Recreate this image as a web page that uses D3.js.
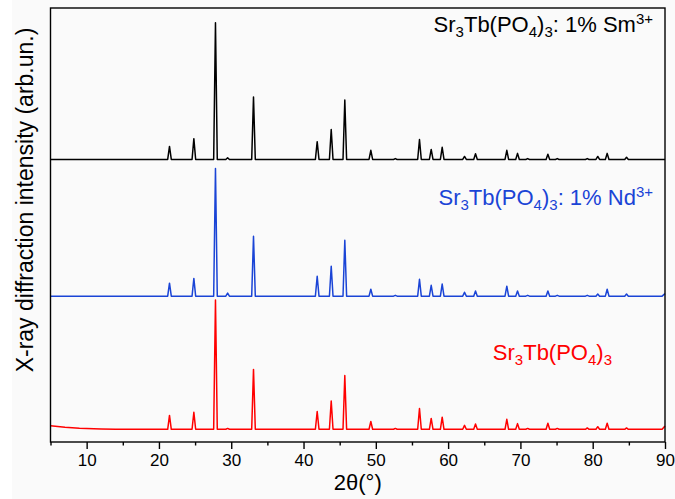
<!DOCTYPE html>
<html>
<head>
<meta charset="utf-8">
<script src="https://cdn.jsdelivr.net/npm/d3@7"></script>
<style>
  body { margin: 0; background: #fff; }
  svg { display: block; }
  text { font-family: "Liberation Sans", Arial, sans-serif; }
</style>
</head>
<body>
<svg id="chart" width="675" height="499"></svg>
<script>
// Reflection positions (2θ, degrees) shared by the three patterns
const peakPositions = [21.46, 24.83, 27.82, 29.5, 33.08, 41.89, 43.83, 45.71, 49.31, 52.7,
  56.04, 57.66, 59.18, 62.27, 63.79, 68.12, 69.60, 71.0, 73.8, 75.1, 79.25, 80.7, 82.0, 84.68];

// Peak heights above background (arb. units)
const peaksSm = [30, 48, 315, 4, 144, 41, 69, 137, 21, 2, 46, 23, 28, 7, 13, 21, 14, 2, 12, 2, 2, 7, 14, 5];
const peaksNd = [30, 41, 294, 7, 138, 46, 69, 129, 16, 2, 39, 25, 28, 9, 12, 23, 12, 2, 12, 2, 2, 5, 16, 5];
const peaksUndoped = [32, 39, 298, 2, 138, 41, 65, 124, 18, 2, 48, 25, 28, 9, 12, 23, 13, 2, 14, 2, 3, 6, 14, 3];

// Background level of each pattern, [2θ, intensity] (patterns are stacked with offsets)
const backgroundSm = [[5, 651], [90, 651]];
const backgroundNd = [[5, 336], [89.6, 336], [90, 342]];
const backgroundUndoped = [[5, 37.5], [7, 34], [9, 31.6], [12, 30], [14, 29.3], [89.6, 29.3], [90, 37]];

const xMajorTicks = [10, 20, 30, 40, 50, 60, 70, 80, 90];
const xMinorTicks = [5, 15, 25, 35, 45, 55, 65, 75, 85];

const svg = d3.select("#chart");
const plot = { left: 50.5, right: 665, top: 8, bottom: 442 };

// faint grey page tone
svg.append("rect").attr("x", 12).attr("y", 0).attr("width", 663).attr("height", 499).attr("fill", "#fafafa");

const x = d3.scaleLinear().domain([5, 90]).range([plot.left, plot.right]);
const y = d3.scaleLinear().domain([0, 1000]).range([plot.bottom, plot.top]);

const halfWidth = 0.25;

function buildPattern(heights, background) {
  const bg = d3.scaleLinear().domain(background.map(d => d[0])).range(background.map(d => d[1]));
  const pts = background.map(d => [d[0], d[1]]);
  peakPositions.forEach((p, i) => {
    pts.push([p - halfWidth, bg(p - halfWidth)]);
    pts.push([p, bg(p) + heights[i]]);
    pts.push([p + halfWidth, bg(p + halfWidth)]);
  });
  pts.sort((a, b) => a[0] - b[0]);
  return pts;
}

const series = [
  { heights: peaksSm, background: backgroundSm, color: "#000000" },
  { heights: peaksNd, background: backgroundNd, color: "#1a44d6" },
  { heights: peaksUndoped, background: backgroundUndoped, color: "#ff0000" }
];

const line = d3.line().x(d => x(d[0])).y(d => y(d[1]));

svg.append("g").selectAll("path")
  .data(series)
  .join("path")
  .attr("d", s => line(buildPattern(s.heights, s.background)))
  .attr("fill", "none")
  .attr("stroke", s => s.color)
  .attr("stroke-width", 1.5)
  .attr("stroke-linejoin", "round");

// frame
svg.append("rect")
  .attr("x", plot.left).attr("y", plot.top)
  .attr("width", plot.right - plot.left).attr("height", plot.bottom - plot.top)
  .attr("fill", "none").attr("stroke", "#000").attr("stroke-width", 1.4);

// bottom axis: major ticks with labels, minor ticks between
const xAxis = d3.axisBottom(x).tickValues(xMajorTicks).tickSize(7).tickSizeOuter(0).tickPadding(5);
const gx = svg.append("g").attr("transform", `translate(0,${plot.bottom})`).call(xAxis);
gx.select(".domain").remove();
gx.selectAll("line").attr("stroke-width", 1.4);
gx.selectAll("text").attr("font-size", 17).attr("fill", "#000")
  .attr("font-family", "'Liberation Sans', Arial, sans-serif");

const xMinor = d3.axisBottom(x).tickValues(xMinorTicks).tickSize(3.5).tickSizeOuter(0).tickFormat("");
const gm = svg.append("g").attr("transform", `translate(0,${plot.bottom})`).call(xMinor);
gm.select(".domain").remove();
gm.selectAll("line").attr("stroke-width", 1.4);

// axis titles
svg.append("text")
  .attr("x", (plot.left + plot.right) / 2).attr("y", 490)
  .attr("text-anchor", "middle").attr("font-size", 22)
  .text("2θ(°)");

svg.append("text")
  .attr("transform", "translate(32.5,200) rotate(-90)")
  .attr("text-anchor", "middle").attr("font-size", 23)
  .text("X-ray diffraction intensity (arb.un.)");

// pattern labels with sub/superscripts
function formulaLabel(parts, xPos, yPos, color) {
  const t = svg.append("text").attr("x", xPos).attr("y", yPos)
    .attr("text-anchor", "end").attr("font-size", 22).attr("fill", color);
  let shift = 0;
  parts.forEach(([str, kind]) => {
    const target = kind === "sub" ? 5 : kind === "sup" ? -8 : 0;
    const ts = t.append("tspan").attr("dy", target - shift).text(str);
    if (kind) ts.attr("font-size", 15);
    shift = target;
  });
}

const formulaBase = [["Sr"], ["3", "sub"], ["Tb(PO"], ["4", "sub"], [")"], ["3", "sub"]];
formulaLabel([...formulaBase, [": 1% Sm"], ["3+", "sup"]], 653, 32, "#000");
formulaLabel([...formulaBase, [": 1% Nd"], ["3+", "sup"]], 653, 205, "#1a44d6");
formulaLabel(formulaBase, 612, 360, "#ff0000");
</script>
</body>
</html>
